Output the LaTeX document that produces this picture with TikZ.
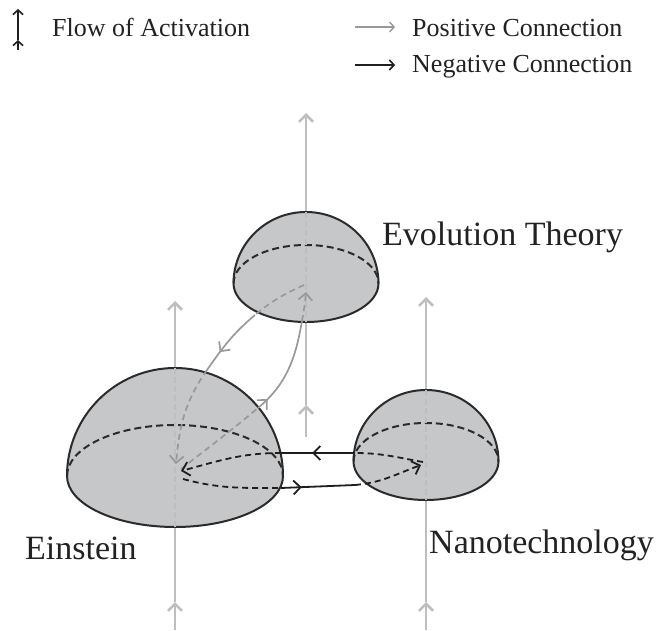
\documentclass[tikz,border=0pt]{standalone}
\usepackage{fontspec}
\setmainfont{Liberation Serif}
\usepackage{xcolor}
\usetikzlibrary{arrows.meta}
\usetikzlibrary{decorations.markings}

\definecolor{domefill}{HTML}{C6C7C9}
\definecolor{domeline}{HTML}{2B2B2B}
\definecolor{actgray}{HTML}{BEBEBE}
\definecolor{posgray}{HTML}{999999}
\definecolor{neggray}{HTML}{1E1E1E}
\definecolor{txtgray}{HTML}{222222}

\tikzset{
	>={Straight Barb[length=7pt,width=14pt]},
	smalltip/.tip={Straight Barb[length=4.5pt,width=10pt]},
	actline/.style={draw=actgray,line width=2.6pt},
	actdash/.style={draw=actgray,line width=2pt,dash pattern=on 6pt off 3pt},
	dome/.style={fill=domefill,draw=domeline,line width=2pt},
	equator/.style={draw=domeline,line width=2pt,dash pattern=on 7pt off 4pt},
	poscon/.style={draw=posgray,line width=1.7pt},
	posdash/.style={poscon,dash pattern=on 6pt off 4pt},
	negcon/.style={draw=neggray,line width=1.8pt},
	negdash/.style={negcon,dash pattern=on 6pt off 4pt},
	midtip/.style={postaction={decorate},decoration={markings,mark=at position #1 with {\arrow{>}}}},
	legtext/.style={anchor=base west,inner sep=0pt,text=txtgray,font=\fontsize{26}{30}\selectfont},
	concept/.style={anchor=base west,inner sep=0pt,text=txtgray,font=\fontsize{34}{40}\selectfont},
}

% #1,#2 centre of the base, #3 x radius, #4 y radius, #5 height
\newcommand{\halfdome}[5]{%
	\draw[dome] (#1-#3,#2) arc[start angle=180,end angle=0,x radius=#3,y radius=#5]
		arc[start angle=0,end angle=-180,x radius=#3,y radius=#4] -- cycle;
	\draw[equator] (#1-#3,#2) arc[start angle=180,end angle=0,x radius=#3,y radius=#4];
}

\begin{document}
\begin{tikzpicture}[x=1pt,y=1pt]
		\useasboundingbox (0,0) rectangle (656,630);
		
		% legend
		\coordinate (flowlo) at (18,580);
		\coordinate (flowmid) at (18,590);
		\coordinate (flowhi) at (18,621);
		\draw[neggray,line width=1.6pt,-smalltip] (flowlo) -- (flowmid);
		\draw[neggray,line width=1.6pt,-smalltip] (flowmid) -- (flowhi);
		\node[legtext] (flowtxt) at (52,593) {Flow of Activation};
		
		\coordinate (posl) at (355,603);
		\coordinate (posr) at (395,603);
		\draw[posgray,line width=1.4pt,-smalltip] (posl) -- (posr);
		\node[legtext] (postxt) at (412,593) {Positive Connection};
		
		\coordinate (negl) at (355,565);
		\coordinate (negr) at (395,565);
		\draw[neggray,line width=1.6pt,-smalltip] (negl) -- (negr);
		\node[legtext] (negtxt) at (412,557) {Negative Connection};
		
		% flow of activation through each concept
		\coordinate (einB) at (175,0);
		\coordinate (einA) at (175,28);
		\coordinate (einT) at (175,329);
		\coordinate (einU) at (175,262);
		\coordinate (einL) at (175,103);
		\coordinate (nanB) at (426,0);
		\coordinate (nanA) at (426,28);
		\coordinate (nanT) at (426,333);
		\coordinate (nanU) at (426,240);
		\coordinate (nanL) at (426,130);
		\coordinate (evoB) at (306,193);
		\coordinate (evoA) at (306,225);
		\coordinate (evoT) at (306,517);
		\coordinate (evoU) at (306,418);
		\coordinate (evoL) at (306,308);
		\draw[actline,->] (einB) -- (einA);
		\draw[actline,->] (einA) -- (einT);
		\draw[actline,->] (nanB) -- (nanA);
		\draw[actline,->] (nanA) -- (nanT);
		\draw[actline,->] (evoB) -- (evoA);
		\draw[actline,->] (evoA) -- (evoT);
		
		% the three concepts
		\halfdome{306}{346.5}{72.5}{38.5}{71.5}
		\halfdome{175}{154}{108}{51}{108}
		\halfdome{426}{168.5}{72.5}{38.5}{71.5}
		\draw[actdash] (evoU) -- (evoL);
		\draw[actdash] (einU) -- (einL);
		\draw[actdash] (nanU) -- (nanL);
		
		\node[concept] (evo) at (382,384) {Evolution Theory};
		\node[concept] (ein) at (25,71) {Einstein};
		\node[concept] (nan) at (429,77) {Nanotechnology};
		
		% positive: evolution -> einstein
		\coordinate (a0) at (304,345);
		\coordinate (a1) at (255,315);
		\coordinate (a2) at (207,260);
		\coordinate (a3) at (176,166);
		\draw[posdash] (a0) to[out=205,in=40] (a1);
		\draw[poscon,midtip=0.7] (a1) to[out=220,in=55] (a2);
		\draw[posdash,->] (a2) to[out=235,in=85] (a3);
		
		% positive: einstein -> evolution
		\coordinate (b0) at (181,161);
		\coordinate (b1) at (258,222);
		\coordinate (b2) at (302,309);
		\coordinate (b3) at (306,338);
		\draw[posdash] (b0) to[out=38,in=220] (b1);
		\draw[poscon,midtip=0.13] (b1) to[out=40,in=260] (b2);
		\draw[posdash,->] (b2) to[out=80,in=265] (b3);
		
		% negative: nanotechnology -> einstein
		\coordinate (n0) at (423,168);
		\coordinate (n1) at (355,177);
		\coordinate (n2) at (281,177);
		\coordinate (n3) at (181,159);
		\draw[negdash] (n0) to[out=170,in=0] (n1);
		\draw[negcon,midtip=0.58] (n1) -- (n2);
		\draw[negdash,->] (n2) to[out=180,in=15] (n3);
		
		% negative: einstein -> nanotechnology
		\coordinate (m0) at (183,151);
		\coordinate (m1) at (281,142);
		\coordinate (m2) at (355,145);
		\coordinate (m3) at (421,165);
		\draw[negdash] (m0) to[out=-15,in=180] (m1);
		\draw[negcon,midtip=0.28] (m1) -- (m2);
		\draw[negdash,->] (m2) to[out=5,in=200] (m3);
	\end{tikzpicture}
\end{document}
